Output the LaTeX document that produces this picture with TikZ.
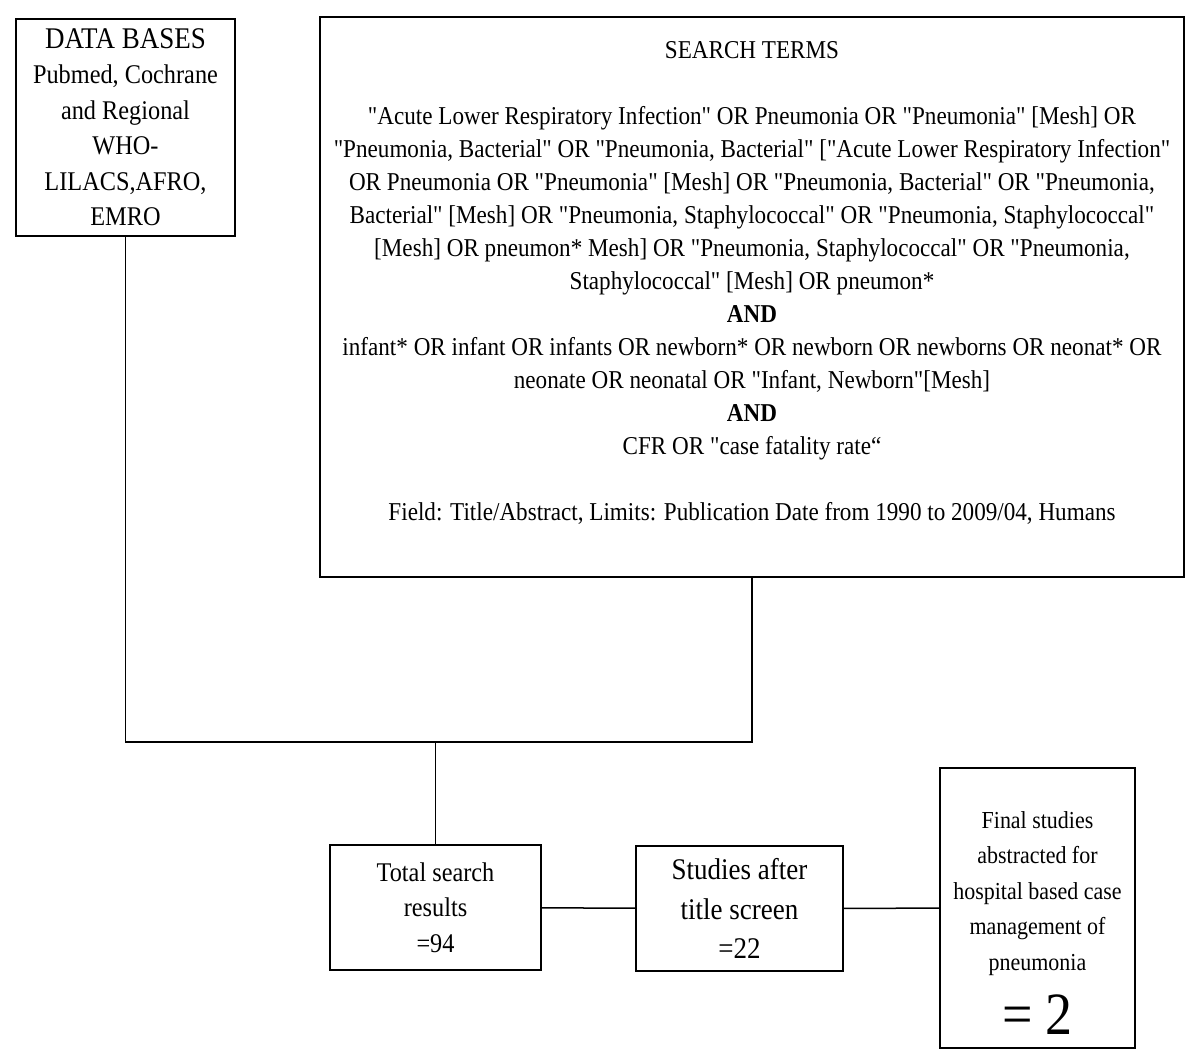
\documentclass[tikz,border=0pt]{standalone}
\usepackage{fontspec}
\setmainfont{Liberation Serif}[FakeStretch=0.9,Ligatures=TeXOff]
\usetikzlibrary{calc}
\tikzset{bx/.style={draw,line width=1pt,inner sep=0pt,align=center}}
\tikzset{s/.style={font=\fontsize{12.85}{16.5}\selectfont}}
\tikzset{m/.style={font=\fontsize{13.5}{17.75}\selectfont}}

\begin{document}
\begin{tikzpicture}[x=0.5pt,y=-0.5pt,line width=0.75pt]
        \useasboundingbox (0,0) rectangle (1200,1061);
        % boxes
        \node[bx,m,minimum width=109.5pt,minimum height=108.5pt] (db) at (125.5,127)
          {{\fontsize{15}{17.75}\selectfont DATA BASES}\\Pubmed, Cochrane\\and Regional\\WHO-\\LILACS,AFRO,\\EMRO};
        \node[bx,minimum width=432pt,minimum height=280pt] (search) at (752,297) {};
        \node[s,align=center,anchor=north] (terms) at ($(search.north)+(0,18)$)
          {SEARCH TERMS\\[16.5pt]
           "Acute Lower Respiratory Infection" OR Pneumonia OR "Pneumonia" [Mesh] OR\\
           "Pneumonia, Bacterial" OR "Pneumonia, Bacterial" ["Acute Lower Respiratory Infection"\\
           OR Pneumonia OR "Pneumonia" [Mesh] OR "Pneumonia, Bacterial" OR "Pneumonia,\\
           Bacterial" [Mesh] OR "Pneumonia, Staphylococcal" OR "Pneumonia, Staphylococcal"\\
           {[}Mesh] OR pneumon* Mesh] OR "Pneumonia, Staphylococcal" OR "Pneumonia,\\
           Staphylococcal" [Mesh] OR pneumon*\\
           \textbf{AND}\\
           infant* OR infant OR infants OR newborn* OR newborn OR newborns OR neonat* OR\\
           neonate OR neonatal OR "Infant, Newborn"[Mesh]\\
           \textbf{AND}\\
           CFR OR "case fatality rate“\\[16.5pt]
           Field: Title/Abstract, Limits: Publication Date from 1990 to 2009/04, Humans};
        \node[bx,m,minimum width=105.5pt,minimum height=62.5pt] (total) at (435.5,907.5)
          {Total search\\results\\=94};
        \node[bx,font=\fontsize{15}{19.75}\selectfont,minimum width=103.5pt,minimum height=62.5pt] (after) at (739.5,908.5)
          {Studies after\\title screen\\=22};
        \node[bx,minimum width=97.5pt,minimum height=140pt] (final) at (1037.5,908) {};
        \node[font=\fontsize{12.2}{17.75}\selectfont,align=center] (finaltext) at ($(final)+(0,15)$)
          {Final studies\\abstracted for\\hospital based case\\management of\\pneumonia\\[9pt]
           {\fontsize{30}{30}\selectfont = 2}};
        % connectors
        \coordinate (join) at (435.5,742);
        \draw (db.south) |- (join) -| (search.south);
        \draw (join) -- (total.north);
        \draw (total) -- (after);
        \draw (after) -- (final);
\end{tikzpicture}
\end{document}
